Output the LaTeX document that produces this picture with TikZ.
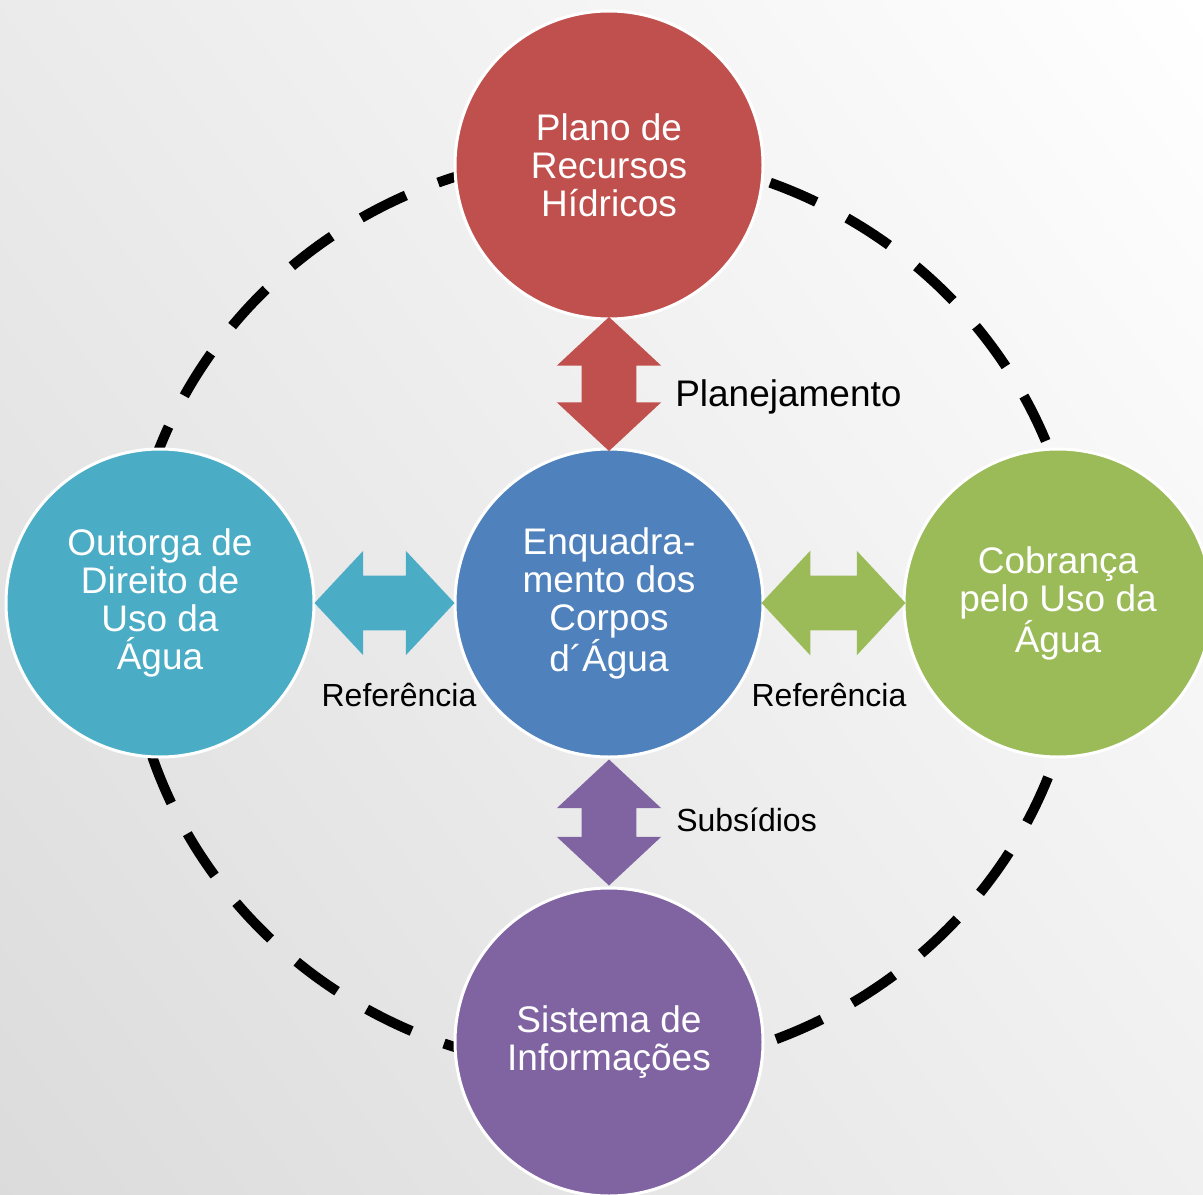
\documentclass[tikz,border=0pt]{standalone}
\usepackage{fontspec}
\setmainfont{Liberation Sans}
\usepackage{pgf,tikz}
\usetikzlibrary{shapes.arrows,shadings}
\definecolor{planred}{HTML}{C0504D}
\definecolor{enqblue}{HTML}{4F81BD}
\definecolor{outteal}{HTML}{4BACC6}
\definecolor{cobgreen}{HTML}{9BBB59}
\definecolor{sispurple}{HTML}{8064A2}
\tikzset{
  bubble/.style={circle,draw=white,line width=2.25pt,minimum size=231pt,inner sep=0pt,align=center,text=white,font=\fontsize{27.75}{28.5}\selectfont},
  twoway/.style={double arrow,inner xsep=0pt,inner ysep=20.25pt,minimum width=78pt,double arrow head extend=18.75pt,double arrow tip angle=94},
  lbl/.style={text=black,inner sep=0pt,font=\fontsize{24}{28}\selectfont}
}
\begin{document}
\begin{tikzpicture}[line cap=butt,line join=miter,x=0.75pt,y=-0.75pt]
\useasboundingbox (0,0) rectangle (1203,1195);
\clip (0,0) rectangle (1203,1195);
\shade [lower left=black!14,upper right=white,upper left=black!8,lower right=black!6] (0,0) rectangle (1203,1195);
\draw [line width=7.5pt,dash pattern=on 37.5pt off 26pt] (604,612) ellipse [x radius=476,y radius=458];
\node [bubble,fill=planred] (plano) at (609,165) {Plano de\\Recursos\\Hídricos};
\node [bubble,fill=enqblue] (enq) at (609,603) {Enquadra-\\mento dos\\Corpos\\d´Água};
\node [bubble,fill=outteal] (outorga) at (160,603) {Outorga de\\Direito de\\Uso da\\Água};
\node [bubble,fill=cobgreen] (cobranca) at (1058,603) {Cobrança\\pelo Uso da\\Água};
\node [bubble,fill=sispurple] (sistema) at (609,1042) {Sistema de\\Informações};
\path (plano) -- (enq) node [twoway,fill=planred,midway,sloped,minimum height=100.5pt] (planarrow) {};
\path (enq) -- (sistema) node [twoway,fill=sispurple,midway,sloped,minimum height=94.5pt] (sisarrow) {};
\path (outorga) -- (enq) node [twoway,fill=outteal,midway,sloped,minimum height=105pt] (outarrow) {};
\path (enq) -- (cobranca) node [twoway,fill=cobgreen,midway,sloped,minimum height=108pt] (cobarrow) {};
\node [lbl,anchor=west,font=\fontsize{27.75}{30}\selectfont] (planlbl) at (675,397) {Planejamento};
\node [lbl,anchor=west] (sislbl) at (676,820) {Subsídios};
\node [lbl] (outlbl) at (399,695) {Referência};
\node [lbl] (coblbl) at (829,695) {Referência};
\end{tikzpicture}
\end{document}
